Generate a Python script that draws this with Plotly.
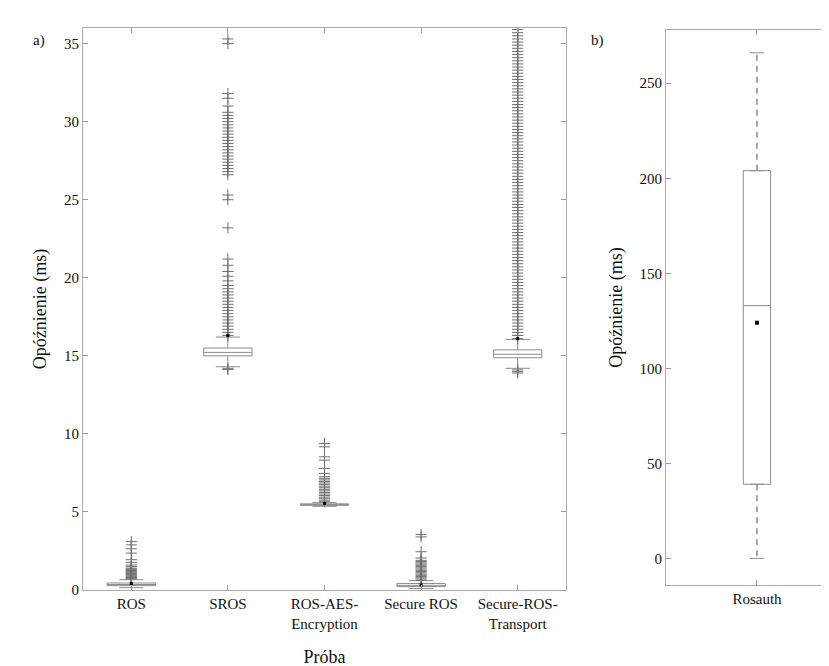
import plotly.graph_objects as go

# --- dane ---
kategorie = ["ROS", "SROS", "ROS-AES-<br>Encryption", "Secure ROS", "Secure-ROS-<br>Transport"]
q1 = [0.28, 15.0, 5.42, 0.22, 14.88]
mediana = [0.35, 15.22, 5.47, 0.3, 15.1]
q3 = [0.45, 15.5, 5.52, 0.42, 15.38]
dolny_was = [0.15, 14.3, 5.36, 0.1, 14.2]
gorny_was = [0.66, 16.2, 5.6, 0.6, 16.05]
srednia = [0.42, 16.3, 5.55, 0.32, 16.1]

odst_ros = [0.7, 0.75, 0.8, 0.85, 0.9, 0.95, 1.0, 1.05, 1.1, 1.15, 1.2, 1.25, 1.3,
            1.35, 1.4, 1.5, 1.6, 1.77, 1.94, 2.36, 2.64, 2.89, 3.1]
odst_sros = [14.12, 14.2, 16.3, 16.5, 16.7, 16.9, 17.1, 17.3, 17.5, 17.7, 17.9, 18.1,
             18.3, 18.5, 18.7, 18.9, 19.1, 19.3, 19.5, 19.8, 20.1, 20.4, 20.8, 21.2,
             23.2, 25.0, 25.3, 26.6, 26.8, 27.0, 27.2, 27.4, 27.6, 27.8, 28.0, 28.2,
             28.4, 28.6, 28.8, 29.0, 29.2, 29.4, 29.6, 29.8, 30.0, 30.2, 30.4, 30.6,
             31.0, 31.5, 31.8, 35.0, 35.3]
odst_aes = [5.65, 5.75, 5.85, 5.95, 6.05, 6.15, 6.25, 6.35, 6.45, 6.55, 6.65, 6.75,
            6.85, 6.95, 7.05, 7.15, 7.26, 7.47, 7.79, 8.32, 8.53, 9.17, 9.38]
odst_sec = [0.62, 0.7, 0.78, 0.86, 0.94, 1.02, 1.1, 1.18, 1.26, 1.34, 1.42, 1.5,
            1.58, 1.66, 1.74, 1.82, 1.9, 2.05, 2.45, 3.4, 3.55]
odst_trans = [13.9, 14.0, 14.1, 16.1, 16.3, 16.5, 16.7, 16.9, 17.1, 17.3, 17.5, 17.7,
              17.9, 18.1, 18.3, 18.5, 18.7, 18.9, 19.1, 19.3, 19.5, 19.7, 19.9, 20.1,
              20.3, 20.5, 20.7, 20.9, 21.1, 21.3, 21.5, 21.7, 21.9, 22.1, 22.3, 22.5,
              22.7, 22.9, 23.1, 23.3, 23.5, 23.7, 23.9, 24.1, 24.3, 24.5, 24.7, 24.9,
              25.1, 25.3, 25.5, 25.7, 25.9, 26.1, 26.3, 26.5, 26.7, 26.9, 27.1, 27.3,
              27.5, 27.7, 27.9, 28.1, 28.3, 28.5, 28.7, 28.9, 29.1, 29.3, 29.5, 29.7,
              29.9, 30.1, 30.3, 30.5, 30.7, 30.9, 31.1, 31.3, 31.5, 31.7, 31.9, 32.1,
              32.3, 32.5, 32.7, 32.9, 33.1, 33.3, 33.5, 33.7, 33.9, 34.1, 34.3, 34.5,
              34.7, 34.9, 35.1, 35.3, 35.5, 35.7, 35.9]
odstajace = [odst_ros, odst_sros, odst_aes, odst_sec, odst_trans]

# rosauth (b)
ra_q1, ra_med, ra_q3 = 39, 133, 204
ra_min, ra_max, ra_mean = 0, 266, 124

SZARY = "#8c8c8c"
FONT = "Liberation Serif"

fig = go.Figure()
pos = list(range(1, len(kategorie) + 1))

fig.add_trace(go.Box(
    x=pos, q1=q1, median=mediana, q3=q3, lowerfence=dolny_was, upperfence=gorny_was,
    width=0.5, whiskerwidth=0.5, fillcolor="white",
    line=dict(color=SZARY, width=1), xaxis="x", yaxis="y", showlegend=False,
))
for p, vals in zip(pos, odstajace):
    fig.add_trace(go.Scatter(
        x=[p] * len(vals), y=vals, mode="markers", xaxis="x", yaxis="y",
        marker=dict(symbol="cross-thin", size=8, line=dict(color="#707070", width=1)),
        showlegend=False,
    ))
fig.add_trace(go.Scatter(
    x=pos, y=srednia, mode="markers", xaxis="x", yaxis="y",
    marker=dict(symbol="square", size=3, color="black"), showlegend=False,
))

# b) - box + przerywane wąsy
fig.add_trace(go.Box(
    x=[1], q1=[ra_q1], median=[ra_med], q3=[ra_q3], lowerfence=[ra_q1], upperfence=[ra_q3],
    width=0.15, fillcolor="white", line=dict(color=SZARY, width=1),
    xaxis="x2", yaxis="y2", showlegend=False,
))
for a, b in [(ra_q3, ra_max), (ra_q1, ra_min)]:
    fig.add_trace(go.Scatter(
        x=[1, 1], y=[a, b], mode="lines", xaxis="x2", yaxis="y2",
        line=dict(color=SZARY, width=1.5, dash="6px,5px"), showlegend=False,
    ))
    fig.add_trace(go.Scatter(
        x=[0.96, 1.04], y=[b, b], mode="lines", xaxis="x2", yaxis="y2",
        line=dict(color=SZARY, width=1), showlegend=False,
    ))
fig.add_trace(go.Scatter(
    x=[1], y=[ra_mean], mode="markers", xaxis="x2", yaxis="y2",
    marker=dict(symbol="square", size=4, color="black"), showlegend=False,
))

osie = dict(showline=True, linecolor="#aaaaaa", linewidth=1, mirror="ticks",
            ticks="inside", ticklen=5, tickcolor="#999999", showgrid=False,
            zeroline=False, tickfont=dict(family=FONT, size=15, color="#111"))

fig.update_layout(
    width=829, height=666,
    margin=dict(l=0, r=0, t=0, b=0),
    paper_bgcolor="white", plot_bgcolor="white",
    font=dict(family=FONT, size=15, color="#111"),
    xaxis=dict(domain=[75 / 829, 558 / 829], range=[0.5, 5.5], tickvals=pos,
               ticktext=kategorie, anchor="y", automargin=False,
               title=dict(text="Próba", standoff=19), **osie),
    yaxis=dict(domain=[1 - 582 / 666, 1 - 20 / 666], range=[0, 36], dtick=5,
               anchor="x", automargin=False,
               title=dict(text="Opóźnienie (ms)", standoff=12), **osie),
    xaxis2=dict(domain=[658 / 829, 1], range=[0.5, 1.44], tickvals=[1],
                ticktext=["Rosauth"], anchor="y2", automargin=False, **osie),
    yaxis2=dict(domain=[1 - 577 / 666, 1 - 22 / 666], range=[-14, 278], dtick=50,
                anchor="x2", automargin=False,
                title=dict(text="Opóźnienie (ms)", standoff=12), **osie),
    annotations=[
        dict(text="a)", x=23 / 829, y=1 - 22 / 666, xref="paper", yref="paper",
             showarrow=False, font=dict(family=FONT, size=15, color="#111")),
        dict(text="b)", x=598 / 829, y=1 - 22 / 666, xref="paper", yref="paper",
             showarrow=False, font=dict(family=FONT, size=15, color="#111")),
    ],
)

fig.write_html("out.html")
